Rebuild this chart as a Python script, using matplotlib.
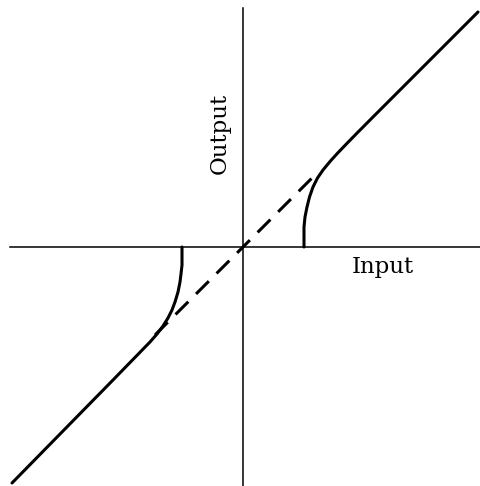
import numpy as np
import matplotlib
matplotlib.use("Agg")
import matplotlib.pyplot as plt

# ---- data (origin of the drawing at the axes crossing) ----
right_x = [61, 61, 61, 62, 64, 66.5, 70, 74.5, 80, 87, 95, 105, 115, 130, 147, 235]
right_y = [0, 10, 20, 30, 40, 50, 60, 69, 77, 85.5, 94.3, 104.7, 114.9, 130, 147, 235]

left_x = [-61, -61, -61, -62, -63, -65, -68, -71, -75, -80, -86, -93, -130, -231]
left_y = [0, -9, -18, -27, -35, -45, -55, -63, -71, -79, -87, -95, -133, -236]

dash_x = [-88, 72]
dash_y = [-88, 72]

input_label = "Input"
output_label = "Output"

# --------------------------------------------
fig = plt.figure(figsize=(4.81, 4.86), dpi=100)
ax = fig.add_axes([0, 0, 1, 1])
ax.set_xlim(-243, 238)
ax.set_ylim(-239, 247)
ax.axis("off")

# axes cross
ax.plot([-233, 238], [0, 0], color="black", lw=1.1)
ax.plot([0, 0], [-239, 239], color="black", lw=1.1)

# transfer curve
ax.plot(right_x, right_y, color="black", lw=2.2, solid_capstyle="round",
        solid_joinstyle="round")
ax.plot(left_x, left_y, color="black", lw=2.2, solid_capstyle="round",
        solid_joinstyle="round")
ax.plot(dash_x, dash_y, color="black", lw=2.2, dashes=(5.9, 3.6),
        dash_capstyle="butt")

ax.text(140, -20, input_label, ha="center", va="center",
        fontsize=16.5, family="DejaVu Serif")
ax.text(-23, 114, output_label, ha="center", va="center", rotation=90,
        fontsize=16.5, family="DejaVu Serif")

fig.savefig("out.png", dpi=100, facecolor="white")
